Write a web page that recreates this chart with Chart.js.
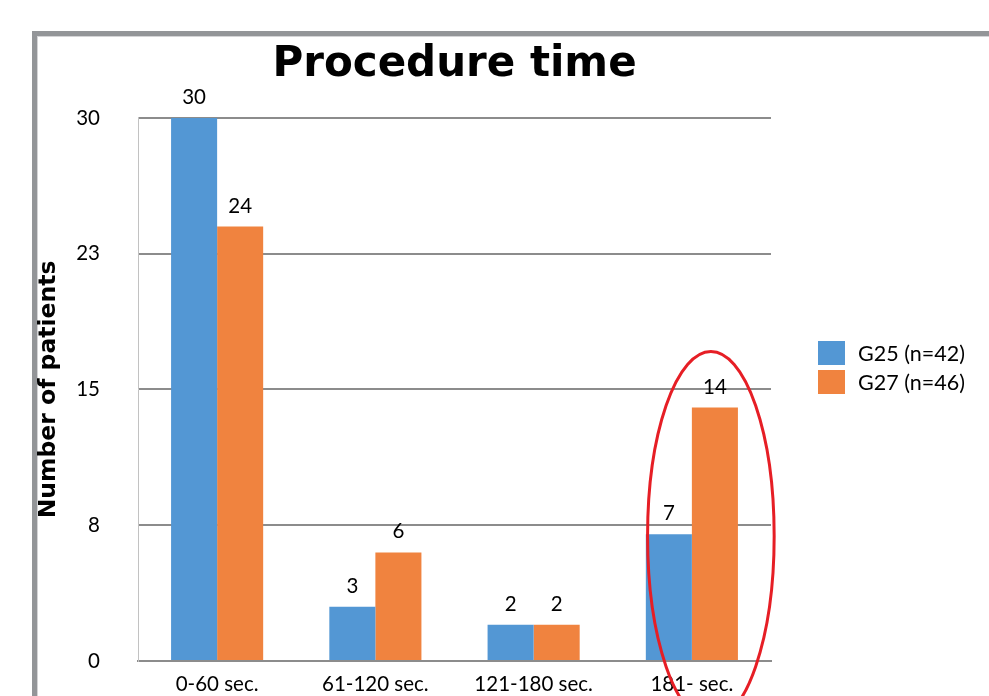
<!DOCTYPE html>
<html>
<head>
<meta charset="utf-8">
<title>Procedure time</title>
<script src="https://cdn.jsdelivr.net/npm/chart.js@4.4.1/dist/chart.umd.min.js"></script>
<style>
  html, body { margin: 0; padding: 0; background: #fff; overflow: hidden; }
  #wrap { position: relative; width: 989px; height: 696px; overflow: hidden; }
  #frame {
    position: absolute; left: 32px; top: 31px; width: 1000px; height: 700px;
    border-left: 5px solid #939598; border-top: 5px solid #939598;
    box-shadow: inset 1px 1px 0 #d4d4d6;
  }
  #chart { position: absolute; left: 0; top: 0; }
  #legend { position: absolute; left: 818px; top: 341px; font: 21.5px Lato, sans-serif; color: #000; }
  #legend .item { display: flex; align-items: center; height: 24px; margin-bottom: 5px; }
  #legend .box { width: 27px; height: 24px; margin-right: 13px; }
</style>
</head>
<body>
<div id="wrap">
  <div id="frame"></div>
  <canvas id="chart" width="989" height="696"></canvas>
  <div id="legend"></div>
</div>
<script>
'use strict';

const categories = ['0-60 sec.', '61-120 sec.', '121-180 sec.', '181- sec.'];
const g25 = [30, 3, 2, 7];
const g27 = [24, 6, 2, 14];
const seriesNames = ['G25 (n=42)', 'G27 (n=46)'];
const seriesColors = ['#5397d4', '#f0833f'];
const yTicks = [0, 7.5, 15, 22.5, 30];

// numbers above each bar
const valueLabels = {
  id: 'valueLabels',
  afterDatasetsDraw(chart) {
    const ctx = chart.ctx;
    ctx.save();
    ctx.font = '20.5px Lato';
    ctx.fillStyle = '#000';
    ctx.textAlign = 'center';
    ctx.textBaseline = 'alphabetic';
    chart.data.datasets.forEach(function(ds, i) {
      chart.getDatasetMeta(i).data.forEach(function(bar, j) {
        ctx.fillText(ds.data[j], bar.x, bar.y - 14);
      });
    });
    ctx.restore();
  }
};

// red hand-drawn ring round the last group
const ring = {
  id: 'ring',
  afterDraw(chart) {
    const x = chart.scales.x;
    const y = chart.scales.y;
    const cx = x.getPixelForValue(3.12);
    const rx = x.getPixelForValue(3.52) - cx;
    const top = y.getPixelForValue(17.1);
    const bottom = y.getPixelForValue(-3.3);
    const ctx = chart.ctx;
    ctx.save();
    ctx.strokeStyle = '#e61e25';
    ctx.lineWidth = 3;
    ctx.beginPath();
    ctx.ellipse(cx, (top + bottom) / 2, rx, (bottom - top) / 2, 0, 0, Math.PI * 2);
    ctx.stroke();
    ctx.restore();
  }
};

const ctx = document.getElementById('chart');

let barChart = new Chart(ctx, {
  type: 'bar',
  data: {
    labels: categories,
    datasets: [
      { label: seriesNames[0], data: g25, backgroundColor: seriesColors[0] },
      { label: seriesNames[1], data: g27, backgroundColor: seriesColors[1] }
    ]
  },
  options: {
    responsive: false,
    animation: false,
    layout: { padding: { left: 0, right: 218, top: 0, bottom: 0 } },
    categoryPercentage: 0.582,
    barPercentage: 1,
    plugins: {
      legend: { display: false },
      tooltip: { enabled: false },
      title: {
        display: true,
        text: 'Procedure time',
        fullSize: false,
        color: '#000',
        font: { family: 'DejaVu Sans', size: 42, weight: 'bold', lineHeight: 1.2 },
        padding: { top: 40, bottom: 27.5 }
      }
    },
    scales: {
      x: {
        grid: { display: false, drawTicks: false },
        border: { color: '#8c8c8c', width: 2 },
        ticks: { color: '#000', font: { family: 'Lato', size: 20.5 }, padding: 11 },
        afterFit(scale) { scale.height = 35; }
      },
      y: {
        min: 0,
        max: 30,
        grid: {
          color: '#8c8c8c',
          lineWidth: 2,
          drawTicks: true,
          tickLength: 38,
          tickColor: 'rgba(0,0,0,0)'
        },
        border: { color: '#c2c2c2', width: 1 },
        afterBuildTicks(scale) {
          scale.ticks = yTicks.map(function(v) { return { value: v }; });
        },
        ticks: {
          color: '#000',
          font: { family: 'Lato', size: 20.5 },
          padding: 0,
          callback: function(value) { return Math.round(value); }
        },
        title: {
          display: true,
          text: 'Number of patients',
          color: '#000',
          font: { family: 'DejaVu Sans', size: 23.5, weight: 'bold', lineHeight: 1.2 },
          padding: { top: 34.4, bottom: 0 }
        },
        afterFit(scale) { scale.width = 138; }
      }
    }
  },
  plugins: [valueLabels, ring]
});

// legend
const legendEl = document.getElementById('legend');
barChart.data.datasets.forEach(function(ds) {
  const item = document.createElement('div');
  item.className = 'item';
  const box = document.createElement('span');
  box.className = 'box';
  box.style.background = ds.backgroundColor;
  const txt = document.createElement('span');
  txt.textContent = ds.label;
  item.appendChild(box);
  item.appendChild(txt);
  legendEl.appendChild(item);
});
</script>
</body>
</html>
